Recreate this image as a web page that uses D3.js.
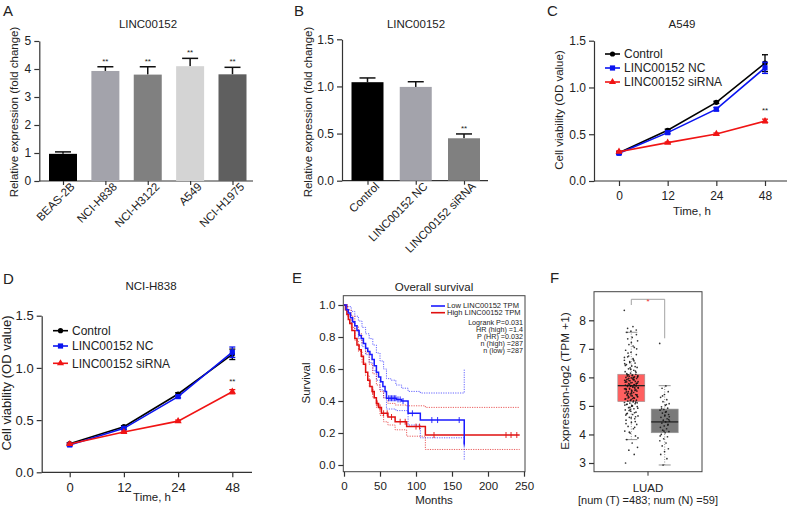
<!DOCTYPE html>
<html><head><meta charset="utf-8">
<script src="https://cdn.jsdelivr.net/npm/d3@7"></script>
<style>body{margin:0;background:#fff} svg text{font-family:"Liberation Sans",Arial,Helvetica,sans-serif;fill:#222}</style>
</head><body><svg id="c" width="790" height="509"></svg>
<script>
// ---------- DATA ----------
const cellLines = ["BEAS-2B","NCI-H838","NCI-H3122","A549","NCI-H1975"];
const cellExpr = [0.97,3.93,3.80,4.10,3.81];
const cellErr = [0.07,0.15,0.28,0.28,0.25];
const cellSig = ["","**","**","**","**"];
const cellTicks = [0,1,2,3,4,5];

const groupsB = ["Control","LINC00152 NC","LINC00152 siRNA"];
const exprB = [1.045,0.995,0.45];
const errB = [0.045,0.055,0.046];
const sigB = ["","","**"];
const ticksB = [0,0.5,1.0,1.5];

const timePoints = ["0","12","24","48"];
const seriesNames = ["Control","LINC00152 NC","LINC00152 siRNA"];
const a549Control = [0.303,0.542,0.841,1.26];
const a549NC = [0.296,0.517,0.768,1.21];
const a549Si = [0.313,0.410,0.503,0.641];
const a549ControlErr = [0.01,0.012,0.012,0.09];
const a549NCErr = [0.01,0.012,0.018,0.06];
const a549SiErr = [0.008,0.008,0.01,0.02];
const h838Control = [0.274,0.437,0.75,1.13];
const h838NC = [0.262,0.421,0.725,1.15];
const h838Si = [0.271,0.386,0.49,0.772];
const h838ControlErr = [0.01,0.01,0.012,0.05];
const h838NCErr = [0.01,0.01,0.012,0.05];
const h838SiErr = [0.008,0.008,0.01,0.02];
const viabTicks = [0,0.5,1.0,1.5];

const kmLow = [[0,1],[3,0.97],[6,0.95],[9,0.92],[12,0.895],[15,0.87],[18,0.84],[21,0.81],[24,0.79],[27,0.76],[30,0.73],[33,0.71],[36,0.69],[39,0.66],[42,0.62],[45,0.58],[48,0.55],[51,0.52],[54,0.49],[57,0.46],[59,0.417],[73,0.41],[80,0.40],[89,0.323],[106,0.281],[167,0.135],[168,0.135]];
const kmHigh = [[0,1],[2,0.97],[4,0.94],[6,0.91],[8,0.885],[11,0.84],[15,0.79],[18,0.75],[21,0.72],[24,0.68],[27,0.63],[30,0.58],[33,0.53],[36,0.49],[39,0.46],[42,0.42],[45,0.385],[48,0.36],[52,0.323],[61,0.30],[71,0.27],[87,0.24],[113,0.1875],[244,0.1875]];
const kmLowUpper = [[0,1],[5,0.99],[10,0.96],[15,0.93],[20,0.9],[25,0.86],[30,0.82],[35,0.79],[40,0.75],[45,0.7],[50,0.65],[55,0.6],[59,0.54],[65,0.53],[72,0.5],[80,0.48],[89,0.46],[106,0.45],[167,0.45],[167,0.6]];
const kmLowLower = [[0,1],[5,0.94],[10,0.89],[15,0.84],[20,0.79],[25,0.74],[30,0.69],[35,0.64],[40,0.59],[45,0.53],[50,0.47],[55,0.42],[59,0.35],[72,0.34],[89,0.25],[106,0.17],[167,0.165],[167,0.03]];
const kmHighUpper = [[0,1],[5,0.97],[10,0.93],[15,0.87],[20,0.82],[25,0.76],[30,0.7],[35,0.63],[40,0.57],[45,0.5],[50,0.46],[55,0.42],[61,0.385],[71,0.375],[87,0.37],[113,0.36],[244,0.36]];
const kmHighLower = [[0,1],[5,0.93],[10,0.86],[15,0.78],[20,0.71],[25,0.64],[30,0.56],[35,0.49],[40,0.42],[45,0.36],[50,0.31],[55,0.27],[61,0.25],[71,0.22],[87,0.18],[113,0.097],[244,0.097]];
const kmLowCensor = [62,64,66,68,70,72,75,78,82,95,122,130,160,167];
const kmHighCensor = [40,46,50,55,60,66,78,85,100,105,125,225,232,240];
const kmLegend = ["Low LINC00152 TPM","High LINC00152 TPM"];
const kmStats = ["Logrank P=0.031","HR (high) =1.4","P (HR) =0.032","n (high) =287","n (low) =287"];
const kmXTicks = [0,50,100,150,200,250];
const kmYTicks = [0,0.2,0.4,0.6,0.8,1.0];

const boxGroups = ["Tumor","Normal"];
const tumorStats = [3.82,5.15,5.71,6.11,7.58];
const normalStats = [2.93,4.06,4.44,4.89,5.71];
const tumorPoints = [8.35,7.78,7.72,7.66,7.62,3.0,3.3,3.45,3.55,3.7,3.82,3.95,4.05,4.12,4.2,4.28,4.35,4.42,4.5,4.55,4.6,4.65,4.7,4.74,4.78,4.82,4.86,4.9,4.94,4.98,5.02,5.05,5.08,5.1,5.12,5.14,5.17,5.2,5.22,5.25,5.27,5.3,5.32,5.35,5.37,5.4,5.42,5.45,5.47,5.5,5.52,5.55,5.57,5.6,5.62,5.64,5.66,5.68,5.7,5.71,5.73,5.75,5.78,5.8,5.82,5.84,5.86,5.88,5.9,5.92,5.94,5.96,5.98,6.0,6.02,6.04,6.06,6.08,6.1,6.11,6.15,6.2,6.25,6.3,6.35,6.4,6.45,6.5,6.55,6.6,6.66,6.72,6.8,6.88,6.95,7.05,7.15,7.28,7.4,7.58,4.62,4.88,5.03,5.18,5.28,5.38,5.48,5.58,5.65,5.76,5.85,5.95,6.05,6.18,6.28,6.42,6.58,6.75,5.33,5.52,5.92,4.45,4.95,5.6,6.0,5.44,5.79,
  4.58,4.68,4.76,4.84,4.92,5.0,5.06,5.13,5.19,5.24,5.29,5.34,5.39,5.43,5.49,5.54,5.59,5.63,5.67,5.72,5.77,5.81,5.87,5.91,5.97,6.01,6.07,6.13,6.22,6.33,6.48,6.62,6.85,7.0,7.22,4.38,4.25,4.08,3.88,5.26,5.41,5.56,5.69,5.83,5.99,6.09,5.11,4.99,4.72,6.38,6.52,6.7,7.1,7.35,7.5,5.36,5.61,5.74,5.89,6.03];
const normalPoints = [7.19,5.7,5.62,5.5,5.4,5.3,5.22,5.15,5.08,5.02,4.97,4.92,4.88,4.85,4.8,4.75,4.7,4.65,4.6,4.55,4.5,4.47,4.44,4.4,4.35,4.3,4.25,4.2,4.15,4.1,4.06,4.0,3.92,3.85,3.78,3.7,3.6,3.5,3.4,3.3,3.15,2.93,4.62,4.78,4.9,4.33,4.12,3.95,5.05,5.35,4.52,4.68];
const boxYTicks = [3,4,5,6,7,8];
const boxXLabel = ["LUAD","[num (T) =483; num (N) =59]"];

// ---------- HELPERS ----------
const svg = d3.select("#c");
const FS = 12;      // tick labels
const LS = 11.5;    // titles / axis labels
function txt(g,x,y,s,o={}){
  const t=g.append("text").text(s)
    .attr("font-size",o.fs||LS).attr("text-anchor",o.anchor||"middle");
  if(o.sx){ t.attr("x",0).attr("y",0).attr("transform",`translate(${x},${y}) scale(${o.sx},1)`); }
  else { t.attr("x",x).attr("y",y); if(o.rot) t.attr("transform",`rotate(${o.rot},${x},${y})`); }
  if(o.fill) t.style("fill",o.fill);
  return t;
}
function styleAxis(g,fs){
  g.selectAll("path,line").attr("stroke","#333").attr("stroke-width",1.2);
  g.selectAll("text").attr("font-size",fs||FS).style("fill","#222");
  g.attr("font-family",null);
}

// ---------- BAR PANELS ----------
function barPanel(c){
  const g=svg.append("g");
  const y=d3.scaleLinear().domain([0,c.max]).range([c.y0,c.y1]);
  const x=d3.scalePoint().domain(c.cats).range([c.c0,c.c1]);
  const ay=g.append("g").attr("transform",`translate(${c.ax},0)`)
    .call(d3.axisLeft(y).tickValues(c.ticks).tickFormat(c.fmt).tickSize(5).tickSizeOuter(0));
  styleAxis(ay);
  const ax=g.append("g").attr("transform",`translate(0,${c.y0})`)
    .call(d3.axisBottom(x).tickSize(4).tickSizeOuter(0));
  ax.select(".domain").remove();
  styleAxis(ax,11.5);
  ax.selectAll("text").attr("text-anchor","end").attr("dx",4).attr("dy",6)
    .attr("transform","rotate(-45)");
  g.append("line").attr("x1",c.ax).attr("x2",c.xEnd).attr("y1",c.y0).attr("y2",c.y0)
    .attr("stroke","#333").attr("stroke-width",1.2);
  c.cats.forEach((k,i)=>{
    const cx=x(k), v=c.vals[i], e=c.errs[i];
    g.append("line").attr("x1",cx).attr("x2",cx).attr("y1",y(v)).attr("y2",y(v+e)).attr("stroke","#111").attr("stroke-width",1.5);
    g.append("line").attr("x1",cx-8).attr("x2",cx+8).attr("y1",y(v+e)).attr("y2",y(v+e)).attr("stroke","#111").attr("stroke-width",1.5);
    g.append("rect").attr("x",cx-c.bw/2).attr("width",c.bw).attr("y",y(v)).attr("height",c.y0-y(v)).attr("fill",c.colors[i]);
    if(c.sig[i]) txt(g,cx,y(v+e)-3,c.sig[i],{fs:8});
  });
  txt(g,c.tx,28,c.title);
  txt(g,c.lx,c.ly,"Relative expression (fold change)",{rot:-90});
  txt(g,c.lbx,c.lby,c.letter,{fs:15,anchor:"start"});
}
barPanel({cats:cellLines,vals:cellExpr,errs:cellErr,sig:cellSig,max:5,y0:181,y1:41,ticks:cellTicks,fmt:d3.format("d"),
  c0:63,c1:232.5,ax:39.3,xEnd:253,bw:28,colors:["#000","#a3a3ab","#808080","#d4d4d4","#5f5f5f"],
  title:"LINC00152",tx:148,lx:18,ly:112,letter:"A",lbx:3,lby:16});
barPanel({cats:groupsB,vals:exprB,errs:errB,sig:sigB,max:1.5,y0:180.7,y1:39.3,ticks:ticksB,fmt:d3.format(".1f"),
  c0:367.5,c1:464,ax:342,xEnd:488,bw:32,colors:["#000","#a3a3ab","#808080"],
  title:"LINC00152",tx:416,lx:312,ly:112,letter:"B",lbx:294,lby:16});

// ---------- LINE PANELS ----------
const lineColors=["#000","#0a14f0","#f01414"];
function symbol(g,type,x,y,col){
  if(type===0) g.append("circle").attr("cx",x).attr("cy",y).attr("r",2.6).attr("fill",col);
  else if(type===1) g.append("rect").attr("x",x-2.6).attr("y",y-2.6).attr("width",5.2).attr("height",5.2).attr("fill",col);
  else g.append("path").attr("d",d3.symbol(d3.symbolTriangle,22)()).attr("transform",`translate(${x},${y})`).attr("fill",col);
}
function linePanel(c){
  const g=svg.append("g");
  const y=d3.scaleLinear().domain([0,1.5]).range([c.y0,c.y1]);
  const x=d3.scalePoint().domain(timePoints).range([c.p0,c.p1]);
  const ay=g.append("g").attr("transform",`translate(${c.ax},0)`)
    .call(d3.axisLeft(y).tickValues(viabTicks).tickFormat(d3.format(".1f")).tickSize(5).tickSizeOuter(0));
  styleAxis(ay,c.fs);
  const ax=g.append("g").attr("transform",`translate(0,${c.y0})`)
    .call(d3.axisBottom(x).tickSize(5).tickPadding(5).tickSizeOuter(0));
  ax.select(".domain").remove(); styleAxis(ax,c.fs);
  g.append("line").attr("x1",c.ax).attr("x2",c.xEnd).attr("y1",c.y0).attr("y2",c.y0).attr("stroke","#333").attr("stroke-width",1.2);
  const line=d3.line().x((d,i)=>x(timePoints[i])).y(d=>y(d));
  c.series.forEach((s,k)=>{
    g.append("path").attr("d",line(s)).attr("fill","none").attr("stroke",lineColors[k]).attr("stroke-width",1.6);
    s.forEach((v,i)=>{
      const e=c.errs[k][i], px=x(timePoints[i]);
      g.append("line").attr("x1",px).attr("x2",px).attr("y1",y(v-e)).attr("y2",y(v+e)).attr("stroke",lineColors[k]).attr("stroke-width",1.3);
      [v-e,v+e].forEach(b=>g.append("line").attr("x1",px-3).attr("x2",px+3).attr("y1",y(b)).attr("y2",y(b)).attr("stroke",lineColors[k]).attr("stroke-width",1.3));
      symbol(g,k,px,y(v),lineColors[k]);
    });
  });
  txt(g,x("48"),y(c.series[2][3]+c.errs[2][3])-6,"**",{fs:8});
  seriesNames.forEach((n,k)=>{
    const ly=c.legY[k];
    g.append("line").attr("x1",c.legX).attr("x2",c.legX+15).attr("y1",ly).attr("y2",ly).attr("stroke",lineColors[k]).attr("stroke-width",1.6);
    symbol(g,k,c.legX+7.5,ly,lineColors[k]);
    txt(g,c.legX+19,ly+4.3,n,{anchor:"start",fs:12});
  });
  txt(g,c.tx,c.ty,c.title);
  txt(g,c.xlx,c.xly,"Time, h");
  txt(g,c.lx,c.ly,"Cell viability (OD value)",{rot:-90,fs:c.lfs});
  txt(g,c.lbx,c.lby,c.letter,{fs:15,anchor:"start"});
}
linePanel({y0:181,y1:40.7,p0:619,p1:765,ax:594,xEnd:787,series:[a549Control,a549NC,a549Si],errs:[a549ControlErr,a549NCErr,a549SiErr],
  legX:605,legY:[54,68,82],title:"A549",tx:682,ty:28,xlx:692,xly:215,lx:563,ly:110,letter:"C",lbx:547,lby:16,fs:12,lfs:11.5});
linePanel({y0:472.3,y1:315.7,p0:69.7,p1:232.3,ax:41.7,xEnd:252,series:[h838Control,h838NC,h838Si],errs:[h838ControlErr,h838NCErr,h838SiErr],
  legX:53,legY:[330.7,346,363.3],title:"NCI-H838",tx:151,ty:290,xlx:152,xly:501,lx:11,ly:383,letter:"D",lbx:3,lby:284,fs:13,lfs:13});

// ---------- KM PANEL ----------
(function(){
  const g=svg.append("g");
  const L=343.3,R=525,T=295.7,B=471.7;
  const x=d3.scaleLinear().domain([0,250]).range([344,524]);
  const y=d3.scaleLinear().domain([0,1]).range([465,305]);
  g.append("rect").attr("x",L).attr("y",T).attr("width",R-L).attr("height",B-T).attr("fill","none").attr("stroke","#444").attr("stroke-width",1);
  const ay=g.append("g").attr("transform",`translate(${L},0)`).call(d3.axisLeft(y).tickValues(kmYTicks).tickFormat(d3.format(".1f")).tickSize(5).tickSizeOuter(0));
  ay.select(".domain").remove(); styleAxis(ay,11.5);
  const ax=g.append("g").attr("transform",`translate(0,${B})`).call(d3.axisBottom(x).tickValues(kmXTicks).tickSize(5).tickPadding(5).tickSizeOuter(0));
  ax.select(".domain").remove(); styleAxis(ax,11.5);
  const step=d3.line().x(d=>x(d[0])).y(d=>y(d[1])).curve(d3.curveStepAfter);
  const blue="#1a1aff", red="#e01010";
  [[kmLowUpper,blue],[kmLowLower,blue],[kmHighUpper,red],[kmHighLower,red]].forEach(([d,c])=>{
    g.append("path").attr("d",step(d)).attr("fill","none").attr("stroke",c).attr("stroke-width",0.9).attr("stroke-dasharray","1.2,1.2").attr("opacity",0.75);
  });
  [[kmHigh,red,kmHighCensor],[kmLow,blue,kmLowCensor]].forEach(([d,c,cs])=>{
    g.append("path").attr("d",step(d)).attr("fill","none").attr("stroke",c).attr("stroke-width",1.5);
    cs.forEach(t=>{
      let s=d[0][1]; d.forEach(p=>{if(p[0]<=t) s=p[1];});
      g.append("line").attr("x1",x(t)).attr("x2",x(t)).attr("y1",y(s)-3).attr("y2",y(s)+3).attr("stroke",c).attr("stroke-width",0.9);
    });
  });
  [[blue,306],[red,312.7]].forEach(([c,yy],i)=>{
    g.append("line").attr("x1",431).attr("x2",445).attr("y1",yy).attr("y2",yy).attr("stroke",c).attr("stroke-width",1.6);
    txt(g,447,yy+2.3,kmLegend[i],{anchor:"start",fs:6.4,sx:1.18});
  });
  kmStats.forEach((s,i)=>txt(g,523,325.3+i*6.8,s,{anchor:"end",fs:6.3,sx:1.14}));
  txt(g,434,291,"Overall survival");
  txt(g,434,504,"Months");
  txt(g,310,383,"Survival",{rot:-90});
  txt(g,292,283,"E",{fs:15,anchor:"start"});
})();

// ---------- BOX PANEL ----------
(function(){
  const g=svg.append("g");
  const L=594,R=702,T=291.7,B=471.7;
  const y=d3.scaleLinear().domain([3,8]).range([463,320.3]);
  const centers=[631.3,664.7];
  g.append("rect").attr("x",L).attr("y",T).attr("width",R-L).attr("height",B-T).attr("fill","none").attr("stroke","#444").attr("stroke-width",1);
  const ay=g.append("g").attr("transform",`translate(${L},0)`).call(d3.axisLeft(y).tickValues(boxYTicks).tickFormat(d3.format("d")).tickSize(5).tickSizeOuter(0));
  ay.select(".domain").remove(); styleAxis(ay,12);
  g.append("line").attr("x1",648).attr("x2",648).attr("y1",B).attr("y2",B+4).attr("stroke","#333");
  const fills=["#ff5f5f","#7a7a7a"];
  [tumorStats,normalStats].forEach((st,k)=>{
    const cx=centers[k], w=27;
    g.append("line").attr("x1",cx).attr("x2",cx).attr("y1",y(st[0])).attr("y2",y(st[4])).attr("stroke","#777").attr("stroke-width",0.8).attr("stroke-dasharray","1,1.5");
    [st[0],st[4]].forEach(v=>g.append("line").attr("x1",cx-6).attr("x2",cx+6).attr("y1",y(v)).attr("y2",y(v)).attr("stroke","#888").attr("stroke-width",0.9));
    g.append("rect").attr("x",cx-w/2).attr("y",y(st[3])).attr("width",w).attr("height",y(st[1])-y(st[3])).attr("fill",fills[k]).attr("stroke","#999").attr("stroke-width",0.6);
    g.append("line").attr("x1",cx-w/2).attr("x2",cx+w/2).attr("y1",y(st[2])).attr("y2",y(st[2])).attr("stroke","#222").attr("stroke-width",1.3);
  });
  [[tumorPoints,centers[0],14],[normalPoints,centers[1],10]].forEach(([pts,cx,sp])=>{
    pts.forEach((v,i)=>{
      const j=(((i*0.6180339)%1)-0.5)*sp;
      g.append("circle").attr("cx",cx+j).attr("cy",y(v)).attr("r",0.85).attr("fill","#111").attr("opacity",0.85);
    });
  });
  g.append("path").attr("d",`M${centers[0]},305V299.3H${centers[1]}V338.3`).attr("fill","none").attr("stroke","#999").attr("stroke-width",0.9);
  txt(g,648,304,"*",{fs:8,fill:"#f03030"});
  txt(g,648,492,boxXLabel[0],{fs:11.5});
  txt(g,648,504,boxXLabel[1],{fs:11});
  txt(g,569,381,"Expression-log2 (TPM +1)",{rot:-90,fs:11.8});
  txt(g,550,283,"F",{fs:15,anchor:"start"});
})();
</script></body></html>
